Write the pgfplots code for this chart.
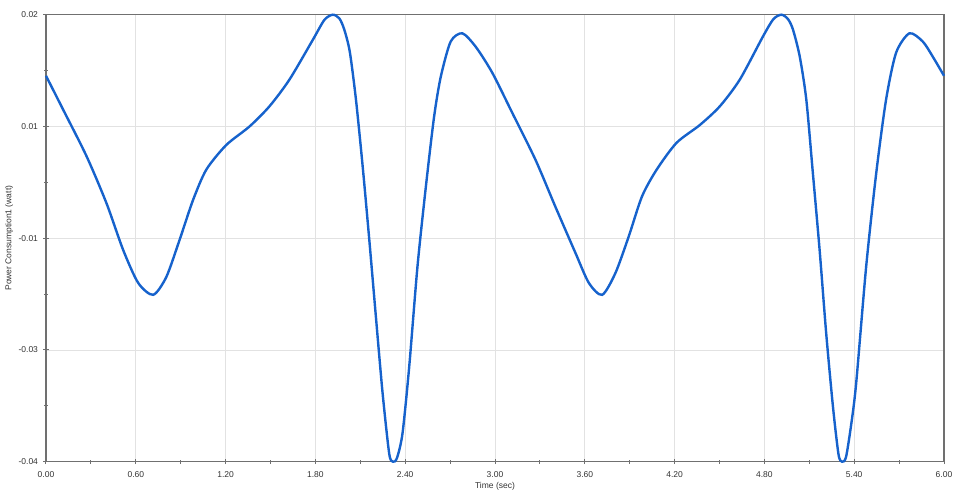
\documentclass[border=0pt]{standalone}
\usepackage{pgfplots}
\pgfplotsset{compat=1.18}
\usepackage{fontspec}
\setmainfont{Liberation Sans}

\definecolor{curveblue}{RGB}{22,98,204}
\definecolor{axisgray}{RGB}{112,112,112}
\definecolor{gridgray}{RGB}{226,226,226}

\begin{document}
\begin{tikzpicture}
\begin{axis}[
    scale only axis,
    width=898pt, height=447pt,
    xmin=0, xmax=6,
    ymin=-0.04, ymax=0.02,
    xtick={0,0.6,1.2,1.8,2.4,3.0,3.6,4.2,4.8,5.4,6.0},
    xticklabels={0.00,0.60,1.20,1.80,2.40,3.00,3.60,4.20,4.80,5.40,6.00},
    ytick={-0.04,-0.025,-0.01,0.005,0.02},
    yticklabels={-0.04,-0.03,-0.01,0.01,0.02},% values rounded to 2 places, as the original shows them
    scaled y ticks=false,
    minor x tick num=1,
    minor y tick num=1,
    tick pos=left,
    tick align=center,
    major tick length=5pt,
    minor tick length=4pt,
    tick style={axisgray, line width=1pt},
    xmajorgrids=true,
    ymajorgrids=true,
    grid style={gridgray, line width=0.8pt},
    axis line style={axisgray, line width=1.6pt},
    ticklabel style={font=\fontsize{8.5}{10}\selectfont, text=black!80},
    xticklabel style={yshift=-4pt},
    yticklabel style={xshift=-2pt},
    xlabel={Time (sec)},
    ylabel={Power Consumption1 (watt)},
    label style={font=\fontsize{8.5}{10}\selectfont, text=black!80},
    xlabel style={at={(axis description cs:0.5,-0.054)}, anchor=center},
    ylabel style={at={(axis description cs:-0.041,0.5)}, anchor=center},
    clip=false,
]
\coordinate (O) at (rel axis cs:0,0);
\addplot [curveblue, line width=2.4pt, smooth, tension=0.45] coordinates {
    (0.000,0.0118) (0.116,0.0072) (0.271,0.0010) (0.404,-0.0053)
    (0.516,-0.0116) (0.616,-0.0160) (0.716,-0.0176) (0.804,-0.0152)
    (0.893,-0.0102) (0.982,-0.0049) (1.071,-0.0008) (1.204,0.0025)
    (1.360,0.0050) (1.493,0.0077) (1.627,0.0113) (1.782,0.0166)
    (1.860,0.0193) (1.916,0.0200) (1.960,0.0195) (1.993,0.0180)
    (2.030,0.0150) (2.071,0.0086) (2.116,-0.0004) (2.160,-0.0102)
    (2.204,-0.0205) (2.249,-0.0308) (2.293,-0.0389) (2.318,-0.0400)
    (2.345,-0.0395) (2.382,-0.0362) (2.427,-0.0272) (2.482,-0.0138)
    (2.538,-0.0031) (2.593,0.0063) (2.638,0.0117) (2.704,0.0164)
    (2.782,0.0175) (2.871,0.0157) (2.982,0.0122) (3.116,0.0068)
    (3.271,0.0005) (3.404,-0.0058) (3.538,-0.0120) (3.627,-0.0160)
    (3.716,-0.0176) (3.804,-0.0147) (3.893,-0.0098) (3.982,-0.0044)
    (4.080,-0.0008) (4.213,0.0028) (4.369,0.0052) (4.502,0.0077)
    (4.636,0.0113) (4.791,0.0171) (4.860,0.0194) (4.914,0.0200)
    (4.958,0.0194) (4.991,0.0180) (5.036,0.0144) (5.080,0.0086)
    (5.124,-0.0013) (5.169,-0.0116) (5.213,-0.0228) (5.258,-0.0326)
    (5.295,-0.0390) (5.318,-0.0400) (5.345,-0.0394) (5.380,-0.0350)
    (5.413,-0.0295) (5.480,-0.0138) (5.547,-0.0013) (5.613,0.0086)
    (5.680,0.0149) (5.769,0.0175) (5.858,0.0164) (5.924,0.0144)
    (6.000,0.0118)
};
\end{axis}
\path (O) ++(-46pt,-33.3pt) rectangle ++(961pt,495pt);
\end{tikzpicture}
\end{document}
